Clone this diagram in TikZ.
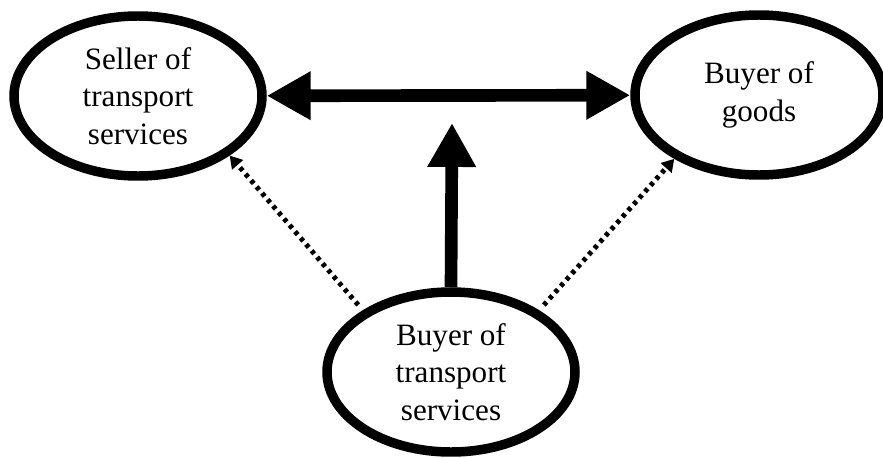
\documentclass[tikz,border=0pt]{standalone}
\usepackage{fontspec}
\setmainfont{Liberation Serif}
\usetikzlibrary{shapes.geometric, positioning, arrows.meta, calc}

\begin{document}
\begin{tikzpicture}[
  >={Triangle[length=25pt, width=26pt]},
  party/.style={ellipse, draw, line width=5.4pt, minimum width=4.96cm,
    minimum height=3.2cm, inner sep=0pt, align=center,
    font=\fontsize{17.7pt}{21.5pt}\selectfont},
  bigarrow/.style={line width=7.2pt},
  dotarrow/.style={line width=2.8pt, dash pattern=on 2.3pt off 2.5pt,
    -{Triangle[length=7pt, width=8pt]}, shorten <=4pt}
]

  \useasboundingbox (0,0) rectangle (17.66,9.14);

  % --- Parties ---
  \node[party] (sel) at (2.76,7.22) {Seller of\\transport\\services};
  \node[party] (bgd) at (15.18,7.24) {Buyer of\\goods};
  \node[party] (bts) at (9.02,1.70) {Buyer of\\transport\\services};

  % --- Main relations ---
  \coordinate (mid) at (9.04,6.68);
  \draw[bigarrow, <->] (sel) -- (bgd);
  \draw[bigarrow, ->] (bts.north) -- (mid);

  % --- Dotted links ---
  \draw[dotarrow] (bts.145) -- (sel.-33);
  \draw[dotarrow] (bts.35) -- (bgd.217);

\end{tikzpicture}
\end{document}
